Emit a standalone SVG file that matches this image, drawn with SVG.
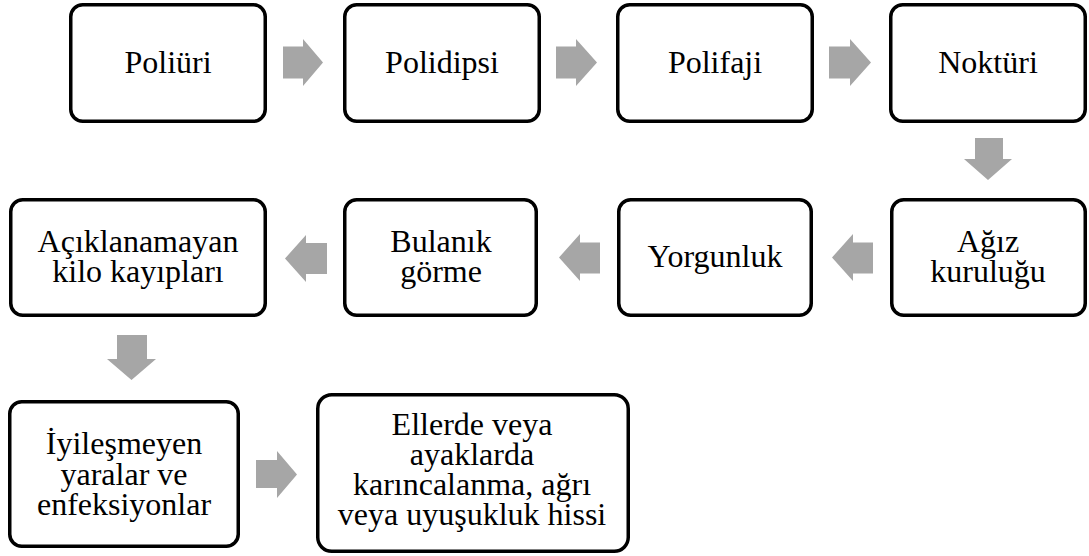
<svg xmlns="http://www.w3.org/2000/svg" width="1089" height="556" viewBox="0 0 1089 556">
<style>
.box{fill:#fff;stroke:#000;stroke-width:3.5}
.t{font-family:"Liberation Serif","Times New Roman",serif;font-size:32px;fill:#000;text-anchor:middle}
.arr{fill:#a6a6a6}
</style>
<rect width="1089" height="556" fill="#fff"/>
<g id="connectors">
<path class="arr" d="M283,46.5 H303 V39 L323,62.5 L303,86 V78.5 H283 Z"/>
<path class="arr" d="M556,46.5 H576 V39 L597,62.5 L576,86 V78.5 H556 Z"/>
<path class="arr" d="M829,46.5 H850 V39 L871,62.5 L850,86 V78.5 H829 Z"/>
<path class="arr" d="M975,138 H1003 V159 H1012 L988,180 L964,159 H975 Z"/>
<path class="arr" d="M873,242.5 H853 V234 L832,257.5 L853,281 V273.5 H873 Z"/>
<path class="arr" d="M600,242.5 H580 V234 L559,257.5 L580,281 V273.5 H600 Z"/>
<path class="arr" d="M327,243 H306 V235 L285,258.5 L306,282 V274 H327 Z"/>
<path class="arr" d="M117,335 H147 V359 H156 L131.5,380 L107,359 H117 Z"/>
<path class="arr" d="M256,460 H277 V451 L297,474.5 L277,498 V488 H256 Z"/>
</g>
<g id="n1"><rect class="box" x="70.75" y="4.75" width="194.5" height="116.5" rx="12"/><text class="t" x="168" y="73">Poliüri</text></g>
<g id="n2"><rect class="box" x="344.75" y="4.75" width="194.5" height="116.5" rx="12"/><text class="t" x="442" y="73">Polidipsi</text></g>
<g id="n3"><rect class="box" x="617.75" y="4.75" width="194.5" height="116.5" rx="12"/><text class="t" x="715" y="73">Polifaji</text></g>
<g id="n4"><rect class="box" x="890.75" y="4.75" width="194.5" height="116.5" rx="12"/><text class="t" x="988" y="73">Noktüri</text></g>
<g id="n5"><rect class="box" x="891.75" y="199.75" width="193.5" height="115.5" rx="12"/><text class="t" x="988" y="252">Ağız</text><text class="t" x="988" y="282">kuruluğu</text></g>
<g id="n6"><rect class="box" x="618.75" y="199.75" width="192.5" height="115.5" rx="12"/><text class="t" x="715" y="267">Yorgunluk</text></g>
<g id="n7"><rect class="box" x="344.75" y="199.75" width="191.5" height="115.5" rx="12"/><text class="t" x="441" y="252">Bulanık</text><text class="t" x="441" y="282">görme</text></g>
<g id="n8"><rect class="box" x="10.75" y="199.75" width="254.5" height="115.5" rx="12"/><text class="t" x="138" y="252">Açıklanamayan</text><text class="t" x="138" y="282">kilo kayıpları</text></g>
<g id="n9"><rect class="box" x="9.75" y="401.75" width="228.5" height="144.5" rx="12"/><text class="t" x="124" y="454">İyileşmeyen</text><text class="t" x="124" y="484.5">yaralar ve</text><text class="t" x="124" y="515">enfeksiyonlar</text></g>
<g id="n10"><rect class="box" x="317.75" y="394.75" width="310.5" height="156.5" rx="14"/><text class="t" x="472" y="435">Ellerde veya</text><text class="t" x="472" y="465">ayaklarda</text><text class="t" x="472" y="495">karıncalanma, ağrı</text><text class="t" x="472" y="525">veya uyuşukluk hissi</text></g>
</svg>
